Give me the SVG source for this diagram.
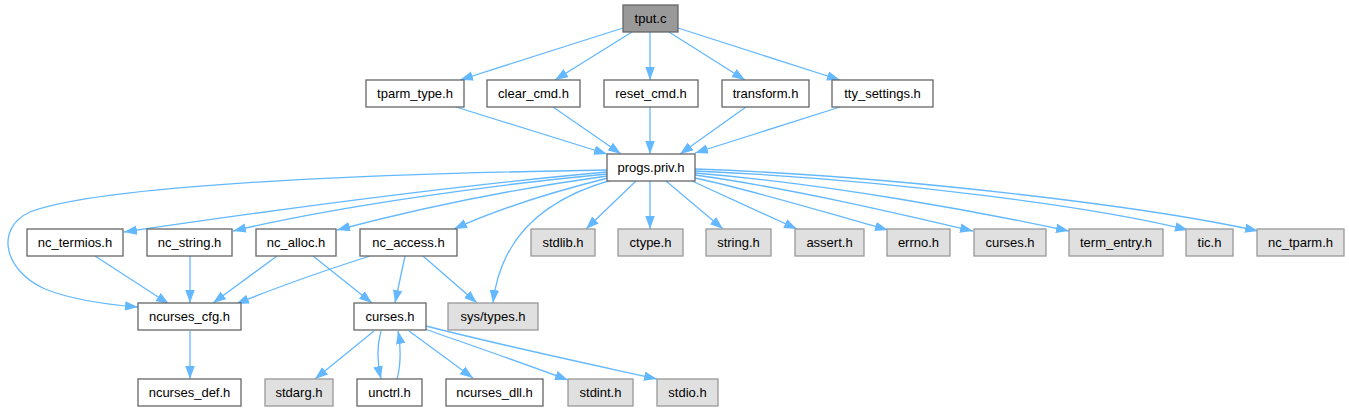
<svg xmlns="http://www.w3.org/2000/svg" width="1349" height="411" viewBox="0 0 1349 411">
<style>
rect{stroke-width:1.3}
.w{fill:#fff;stroke:#666}
.g{fill:#e0e0e0;stroke:#999}
.d{fill:#999;stroke:#666}
text{font-family:"Liberation Sans",Arial,sans-serif;font-size:13px;fill:#000;text-anchor:middle}
#edges path,#edges line{fill:none;stroke:#63b8ff;stroke-width:1.3;marker-end:url(#ah)}
</style>
<defs>
<marker id="ah" markerUnits="userSpaceOnUse" markerWidth="14" markerHeight="10" refX="13" refY="4.75" orient="auto">
<path d="M0,0 L13,4.75 L0,9.5 z" fill="#63b8ff" stroke="none"/>
</marker>
</defs>
<rect width="1349" height="411" fill="#fff"/>
<g id="edges">
<line x1="623" y1="28" x2="460" y2="80"/>
<line x1="632" y1="32" x2="555" y2="80"/>
<line x1="650" y1="32" x2="650" y2="80"/>
<line x1="669" y1="32" x2="745" y2="80"/>
<line x1="678" y1="28" x2="840" y2="80"/>
<line x1="456" y1="107" x2="607" y2="154"/>
<line x1="553" y1="107" x2="621" y2="154"/>
<line x1="650" y1="107" x2="650" y2="154"/>
<line x1="746" y1="107" x2="680" y2="154"/>
<line x1="840" y1="107" x2="695" y2="153"/>
<path d="M607,172 C450,186 260,212 124,232"/>
<path d="M607,174 C480,186 330,208 233,231"/>
<path d="M607,176 C520,188 420,208 337,230"/>
<path d="M608,178 C560,190 500,208 454,229"/>
<path d="M607,170 C420,173 110,182 30,212 C-5,228 3,270 45,289 C70,299 100,304 138,307"/>
<path d="M612,180 C540,200 500,240 493,303"/>
<line x1="636" y1="181" x2="586" y2="229"/>
<line x1="650" y1="181" x2="650" y2="229"/>
<line x1="666" y1="181" x2="723" y2="229"/>
<line x1="692" y1="181" x2="797" y2="229"/>
<path d="M695,178 C760,192 830,214 888,230"/>
<path d="M695,175 C790,188 900,214 973,231"/>
<path d="M695,173 C830,184 980,212 1069,231"/>
<path d="M695,171 C900,180 1100,208 1188,230"/>
<path d="M695,169 C900,176 1150,207 1258,231"/>
<line x1="95" y1="256" x2="169" y2="304"/>
<line x1="190" y1="256" x2="190" y2="303"/>
<line x1="277" y1="256" x2="213" y2="303"/>
<path d="M370,256 C320,272 270,290 236,304"/>
<line x1="313" y1="256" x2="372" y2="303"/>
<line x1="405" y1="256" x2="395" y2="303"/>
<line x1="423" y1="256" x2="477" y2="303"/>
<line x1="190" y1="331" x2="190" y2="379"/>
<line x1="374" y1="331" x2="315" y2="379"/>
<path d="M381,331 C377,345 377,362 381,379"/>
<path d="M397,379 C401,365 401,345 398,331"/>
<line x1="409" y1="331" x2="473" y2="378"/>
<path d="M425,329 C470,345 520,362 568,380"/>
<path d="M426,326 C500,345 580,362 657,379"/>
</g>
<g id="n_tput"><rect class="d" x="623" y="5" width="55" height="27"/><text x="650.5" y="23">tput.c</text></g>
<g id="n_tparm_type"><rect class="w" x="366" y="80" width="98" height="27"/><text x="415" y="98">tparm_type.h</text></g>
<g id="n_clear_cmd"><rect class="w" x="487" y="80" width="93" height="27"/><text x="533.5" y="98">clear_cmd.h</text></g>
<g id="n_reset_cmd"><rect class="w" x="604" y="80" width="94" height="27"/><text x="651" y="98">reset_cmd.h</text></g>
<g id="n_transform"><rect class="w" x="722" y="80" width="87" height="27"/><text x="765.5" y="98">transform.h</text></g>
<g id="n_tty_settings"><rect class="w" x="832" y="80" width="101" height="27"/><text x="882.5" y="98">tty_settings.h</text></g>
<g id="n_progs_priv"><rect class="w" x="607" y="154" width="88" height="27"/><text x="651" y="172">progs.priv.h</text></g>
<g id="n_nc_termios"><rect class="w" x="27" y="229" width="96" height="27"/><text x="75" y="247">nc_termios.h</text></g>
<g id="n_nc_string"><rect class="w" x="147" y="229" width="85" height="27"/><text x="189.5" y="247">nc_string.h</text></g>
<g id="n_nc_alloc"><rect class="w" x="256" y="229" width="80" height="27"/><text x="296" y="247">nc_alloc.h</text></g>
<g id="n_nc_access"><rect class="w" x="360" y="229" width="97" height="27"/><text x="408.5" y="247">nc_access.h</text></g>
<g id="n_stdlib"><rect class="g" x="531" y="229" width="64" height="27"/><text x="563" y="247">stdlib.h</text></g>
<g id="n_ctype"><rect class="g" x="618" y="229" width="65" height="27"/><text x="650.5" y="247">ctype.h</text></g>
<g id="n_string"><rect class="g" x="706" y="229" width="65" height="27"/><text x="738.5" y="247">string.h</text></g>
<g id="n_assert"><rect class="g" x="795" y="229" width="69" height="27"/><text x="829.5" y="247">assert.h</text></g>
<g id="n_errno"><rect class="g" x="887" y="229" width="63" height="27"/><text x="918.5" y="247">errno.h</text></g>
<g id="n_curses_sys"><rect class="g" x="974" y="229" width="72" height="27"/><text x="1010" y="247">curses.h</text></g>
<g id="n_term_entry"><rect class="g" x="1069" y="229" width="94" height="27"/><text x="1116" y="247">term_entry.h</text></g>
<g id="n_tic"><rect class="g" x="1186" y="229" width="47" height="27"/><text x="1209.5" y="247">tic.h</text></g>
<g id="n_nc_tparm"><rect class="g" x="1257" y="229" width="87" height="27"/><text x="1300.5" y="247">nc_tparm.h</text></g>
<g id="n_ncurses_cfg"><rect class="w" x="138" y="303" width="103" height="27"/><text x="189.5" y="321">ncurses_cfg.h</text></g>
<g id="n_curses"><rect class="w" x="354" y="303" width="72" height="27"/><text x="390" y="321">curses.h</text></g>
<g id="n_sys_types"><rect class="g" x="448" y="303" width="90" height="27"/><text x="493" y="321">sys/types.h</text></g>
<g id="n_ncurses_def"><rect class="w" x="138" y="379" width="103" height="27"/><text x="189.5" y="397">ncurses_def.h</text></g>
<g id="n_stdarg"><rect class="g" x="265" y="379" width="68" height="27"/><text x="299" y="397">stdarg.h</text></g>
<g id="n_unctrl"><rect class="w" x="357" y="379" width="65" height="27"/><text x="389.5" y="397">unctrl.h</text></g>
<g id="n_ncurses_dll"><rect class="w" x="446" y="379" width="97" height="27"/><text x="494.5" y="397">ncurses_dll.h</text></g>
<g id="n_stdint"><rect class="g" x="568" y="379" width="65" height="27"/><text x="600.5" y="397">stdint.h</text></g>
<g id="n_stdio"><rect class="g" x="657" y="379" width="61" height="27"/><text x="687.5" y="397">stdio.h</text></g>
</svg>
